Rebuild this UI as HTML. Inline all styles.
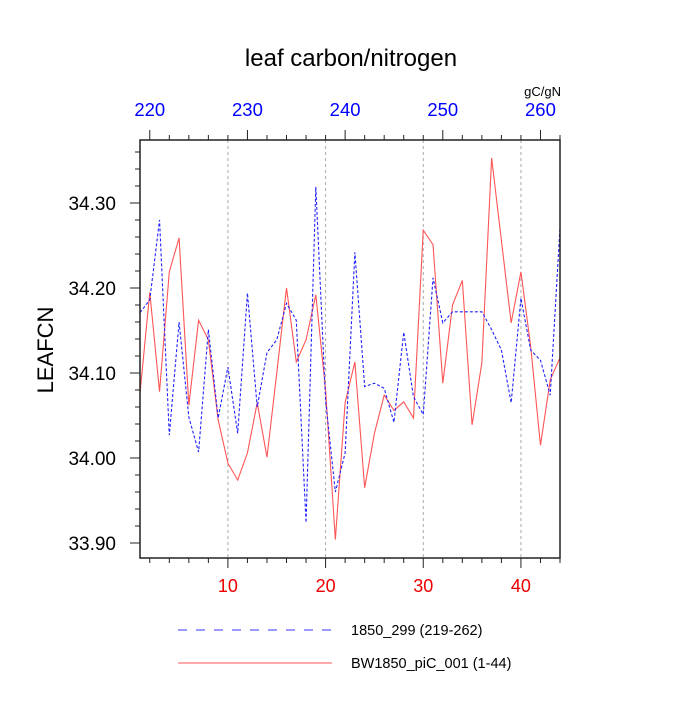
<!DOCTYPE html>
<html><head><meta charset="utf-8"><style>
body{margin:0;background:#fff}
svg text{font-family:"Liberation Sans",Arial,sans-serif}
</style></head><body>
<svg id="chart" width="700" height="700" xmlns="http://www.w3.org/2000/svg">
<text x="351" y="66" font-size="24" text-anchor="middle">leaf carbon/nitrogen</text>
<text x="561" y="96" font-size="13" text-anchor="end">gC/gN</text>
<text x="0" y="0" font-size="22" text-anchor="middle" transform="translate(53,350) rotate(-90)">LEAFCN</text>
<g id="grid"></g><g id="series"></g><g id="axes"></g>
<g>
<line x1="178" y1="630" x2="332" y2="630" stroke="#33f" stroke-width="1" stroke-dasharray="9,9"/>
<text x="351" y="635" font-size="14.5">1850_299 (219-262)</text>
<line x1="178" y1="663" x2="332" y2="663" stroke="#f55" stroke-width="1"/>
<text x="351" y="668" font-size="14.5">BW1850_piC_001 (1-44)</text>
</g>
</svg>
<script>
const redValues=[34.076,34.195,34.078,34.219,34.259,34.062,34.162,34.139,34.045,33.994,33.974,34.006,34.065,34.001,34.100,34.200,34.113,34.139,34.192,34.080,33.904,34.065,34.113,33.965,34.029,34.074,34.056,34.066,34.047,34.268,34.251,34.088,34.180,34.209,34.039,34.112,34.353,34.256,34.159,34.219,34.131,34.015,34.092,34.118];
const blueValues=[34.171,34.186,34.280,34.027,34.160,34.048,34.007,34.151,34.047,34.107,34.029,34.194,34.060,34.124,34.139,34.182,34.162,33.924,34.319,34.068,33.960,34.006,34.242,34.084,34.088,34.082,34.042,34.148,34.072,34.051,34.212,34.159,34.172,34.172,34.172,34.172,34.151,34.127,34.065,34.188,34.127,34.115,34.074,34.271];
const bottomTicks=[10,20,30,40];
const topTicks=[220,230,240,250,260];
const yTicks=[33.90,34.00,34.10,34.20,34.30];
const L=140,R=560,T=140,B=558;
const sx=i=>L+(i-1)*(R-L)/43;
const sxTop=v=>L+(v-219)*(R-L)/43;
const sy=v=>203+(34.30-v)*850;
const NS="http://www.w3.org/2000/svg";
function mk(tag,attrs,parent,txt){const e=document.createElementNS(NS,tag);for(const k in attrs)e.setAttribute(k,attrs[k]);if(txt!=null)e.textContent=txt;parent.appendChild(e);return e;}
const grid=document.getElementById('grid'),ser=document.getElementById('series'),ax=document.getElementById('axes');
bottomTicks.forEach(t=>{const l=mk('line',{x1:sx(t),x2:sx(t),y1:T,y2:B,stroke:'#aaa','stroke-dasharray':'3,3','stroke-width':1},grid);

});
function poly(vals,color,dash,name){const p=mk('polyline',{points:vals.map((v,i)=>sx(i+1)+','+sy(v)).join(' '),fill:'none',stroke:color,'stroke-width':1.1},ser);if(dash)p.setAttribute('stroke-dasharray',dash);

}
poly(redValues,'#f55',null,'series-bw1850');
poly(blueValues,'#22f','3,2','series-1850-299');
const box=mk('rect',{x:L,y:T,width:R-L,height:B-T,fill:'none',stroke:'#222','stroke-width':1.5},ax);


for(let i=2;i<=44;i+=2){const maj=i%10==0;const x=sx(i);mk('line',{x1:x,x2:x,y1:B,y2:B+(maj?10:5),stroke:'#222'},ax);}
bottomTicks.forEach(t=>{const e=mk('text',{x:sx(t),y:B+34,'font-size':18,fill:'#e00','text-anchor':'middle'},ax,String(t));

});
for(let v=220;v<=262;v+=2){const maj=v%10==0;const x=sxTop(v);mk('line',{x1:x,x2:x,y1:T,y2:T-(maj?10:5),stroke:'#222'},ax);}
topTicks.forEach(t=>{const e=mk('text',{x:sxTop(t),y:116,'font-size':18.5,fill:'#00f','text-anchor':'middle'},ax,String(t));

});
for(let k=0;k<=24;k++){const v=33.88+k*0.02;const y=sy(v);if(y<T||y>B)continue;const maj=Math.abs(v*10-Math.round(v*10))<1e-6;mk('line',{x1:L,x2:L-(maj?10:5),y1:y,y2:y,stroke:'#222'},ax);}
yTicks.forEach(t=>{const e=mk('text',{x:116,y:sy(t)+7,'font-size':19,'text-anchor':'end'},ax,t.toFixed(2));

});
</script>
</body></html>
